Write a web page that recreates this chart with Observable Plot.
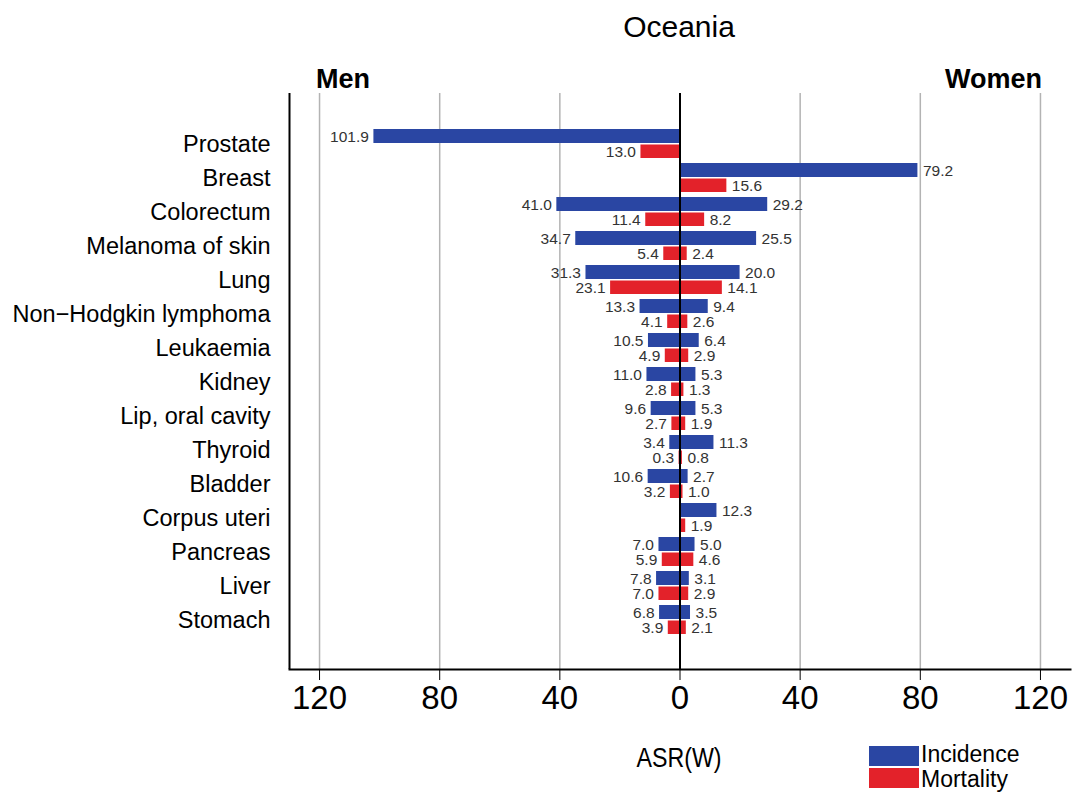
<!DOCTYPE html>
<html>
<head>
<meta charset="utf-8">
<script src="https://cdn.jsdelivr.net/npm/d3@7"></script>
<script src="https://cdn.jsdelivr.net/npm/@observablehq/plot@0.6"></script>
<style>
  html, body { margin: 0; padding: 0; background: #fff; }
  #chart { position: relative; width: 1072px; height: 793px; }
  svg { display: block; }
</style>
</head>
<body>
<div id="chart"></div>
<script>
const categories = ["Prostate", "Breast", "Colorectum", "Melanoma of skin", "Lung",
  "Non\u2212Hodgkin lymphoma", "Leukaemia", "Kidney", "Lip, oral cavity", "Thyroid",
  "Bladder", "Corpus uteri", "Pancreas", "Liver", "Stomach"];
const menIncidence   = [101.9, null, 41.0, 34.7, 31.3, 13.3, 10.5, 11.0, 9.6, 3.4, 10.6, null, 7.0, 7.8, 6.8];
const menMortality   = [13.0, null, 11.4, 5.4, 23.1, 4.1, 4.9, 2.8, 2.7, 0.3, 3.2, null, 5.9, 7.0, 3.9];
const womenIncidence = [null, 79.2, 29.2, 25.5, 20.0, 9.4, 6.4, 5.3, 5.3, 11.3, 2.7, 12.3, 5.0, 3.1, 3.5];
const womenMortality = [null, 15.6, 8.2, 2.4, 14.1, 2.6, 2.9, 1.3, 1.9, 0.8, 1.0, 1.9, 4.6, 2.9, 2.1];
const xTicks = [-120, -80, -40, 0, 40, 80, 120];

const blue = "#2a46a3";
const red = "#e3222a";
const font = "'Liberation Sans', Arial, sans-serif";

function rows(values, sex, measure) {
  const out = [];
  values.forEach((v, i) => {
    if (v != null) out.push({cat: categories[i], sex, measure, value: v, x: sex === "Men" ? -v : v});
  });
  return out;
}
const incMen = rows(menIncidence, "Men", "Incidence");
const incWomen = rows(womenIncidence, "Women", "Incidence");
const mortMen = rows(menMortality, "Men", "Mortality");
const mortWomen = rows(womenMortality, "Women", "Mortality");
const inc = incMen.concat(incWomen);
const mort = mortMen.concat(mortWomen);

const fmt = d => d.value.toFixed(1);
const labelStyle = {fontSize: 15.5, fill: "#333", fontFamily: font};

const plot = Plot.plot({
  width: 1072,
  height: 793,
  marginTop: 93,
  marginBottom: 124,
  marginLeft: 289,
  marginRight: 2,
  style: {fontFamily: font, background: "#fff", color: "#000"},
  x: {domain: [-130, 130]},
  y: {domain: categories, paddingInner: 0.15, paddingOuter: 1.0},
  marks: [
    Plot.gridX({ticks: [-120, -80, -40, 40, 80, 120], stroke: "#b3b3b3", strokeOpacity: 1, strokeWidth: 1.5}),
    Plot.barX(inc, {y: "cat", x1: 0, x2: "x", fill: blue, insetTop: 0, insetBottom: 15}),
    Plot.barX(mort, {y: "cat", x1: 0, x2: "x", fill: red, insetTop: 15.5, insetBottom: 0}),
    Plot.text(incMen, {x: "x", y: "cat", text: fmt, textAnchor: "end", dx: -5, dy: -7, ...labelStyle}),
    Plot.text(incWomen, {x: "x", y: "cat", text: fmt, textAnchor: "start", dx: 5, dy: -7, ...labelStyle}),
    Plot.text(mortMen, {x: "x", y: "cat", text: fmt, textAnchor: "end", dx: -5, dy: 8, ...labelStyle}),
    Plot.text(mortWomen, {x: "x", y: "cat", text: fmt, textAnchor: "start", dx: 5, dy: 8, ...labelStyle}),
    Plot.ruleX([0], {stroke: "#000", strokeWidth: 2}),
    Plot.ruleX([-130], {stroke: "#000", strokeWidth: 2}),
    Plot.frame({anchor: "bottom", stroke: "#000", strokeWidth: 2}),
    Plot.axisX({ticks: xTicks, tickFormat: d => Math.abs(d), tickSize: 11, tickPadding: 5,
      fontSize: 33, label: null, stroke: "#000", fill: "#000"}),
    Plot.axisY({tickSize: 0, tickPadding: 19, fontSize: 23.5, label: null, fill: "#000"})
  ]
});

document.getElementById("chart").appendChild(plot);

const svg = d3.select(plot);
const ann = svg.append("g").attr("font-family", font).attr("fill", "#000").attr("text-anchor", "start");
ann.append("text").attr("x", 679).attr("y", 37).attr("text-anchor", "middle")
  .attr("font-size", 30).text("Oceania");
ann.append("text").attr("x", 316).attr("y", 88).attr("text-anchor", "start")
  .attr("font-size", 27).attr("font-weight", "bold").text("Men");
ann.append("text").attr("x", 1042).attr("y", 88).attr("text-anchor", "end")
  .attr("font-size", 27).attr("font-weight", "bold").text("Women");
ann.append("text").attr("x", 679).attr("y", 767).attr("text-anchor", "middle")
  .attr("font-size", 27).attr("transform", "translate(679,0) scale(0.86,1) translate(-679,0)").text("ASR(W)");
const legend = [{label: "Incidence", color: blue}, {label: "Mortality", color: red}];
legend.forEach((d, i) => {
  ann.append("rect").attr("x", 869).attr("y", 746 + i * 22).attr("width", 50).attr("height", 20).attr("fill", d.color);
  ann.append("text").attr("x", 921).attr("y", 762 + i * 25).attr("text-anchor", "start")
    .attr("font-size", 23).text(d.label);
});
</script>
</body>
</html>
